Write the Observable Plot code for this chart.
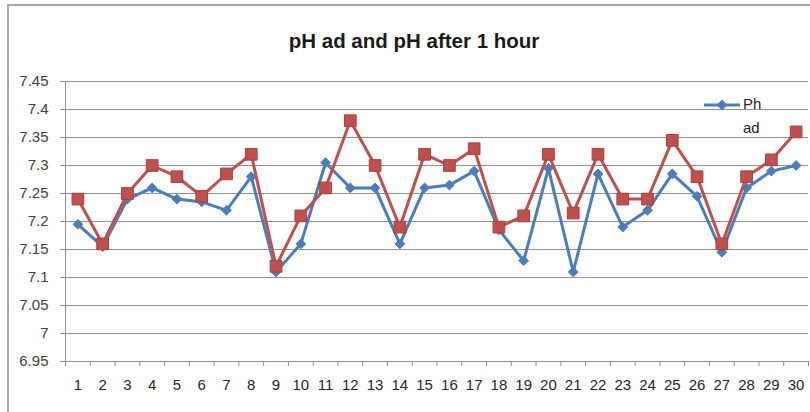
<!DOCTYPE html>
<html><head><meta charset="utf-8">
<script src="https://cdn.jsdelivr.net/npm/d3@7"></script>
<script src="https://cdn.jsdelivr.net/npm/@observablehq/plot@0.6"></script>
<style>
body{margin:0;background:#fff;}
#wrap{position:relative;width:810px;height:412px;overflow:hidden;font-family:"Liberation Sans",Arial,sans-serif;background:#fff;}
#frame{position:absolute;left:7px;top:4px;width:900px;height:500px;border-left:2px solid #a6a6a6;border-top:2px solid #a6a6a6;pointer-events:none;}
#title{position:absolute;left:9px;width:810px;top:29px;text-align:center;font-weight:bold;font-size:20.5px;color:#1a1a1a;}
#chart{position:absolute;left:0;top:0;}
#legend{position:absolute;left:703px;top:92px;font-size:15px;color:#262626;line-height:24px;}
#legend svg{vertical-align:middle;}
</style></head>
<body>
<div id="wrap">
  <div id="chart"></div>
  <div id="frame"></div>
  <div id="title">pH ad and pH after 1 hour</div>
  <div id="legend"></div>
</div>
<script>
const days = [1,2,3,4,5,6,7,8,9,10,11,12,13,14,15,16,17,18,19,20,21,22,23,24,25,26,27,28,29,30];
const phAd = [7.195,7.155,7.24,7.26,7.24,7.235,7.22,7.28,7.11,7.16,7.305,7.26,7.26,7.16,7.26,7.265,7.29,7.185,7.13,7.295,7.11,7.285,7.19,7.22,7.285,7.245,7.145,7.26,7.29,7.30];
const ph1h = [7.24,7.16,7.25,7.30,7.28,7.245,7.285,7.32,7.12,7.21,7.26,7.38,7.30,7.19,7.32,7.30,7.33,7.19,7.21,7.32,7.215,7.32,7.24,7.24,7.345,7.28,7.16,7.28,7.31,7.36];
const yTicks = [6.95,7,7.05,7.1,7.15,7.2,7.25,7.3,7.35,7.4,7.45];
const legendLabel = "Ph ad";

const blue = "#4a7ebb", red = "#c0504d";
const dataAd = days.map((d,i)=>({day:d, v:phAd[i]}));
const data1h = days.map((d,i)=>({day:d, v:ph1h[i]}));
const boundaries = [0].concat(days).map(d=>d+0.5);

const plot = Plot.plot({
  width: 810, height: 412,
  marginLeft: 65, marginRight: 2, marginTop: 81, marginBottom: 51,
  style: {fontFamily: '"Liberation Sans", Arial, sans-serif', fontSize: "15px", color: "#404040", background: "transparent"},
  x: {domain: [0.5, 30.5]},
  y: {domain: [6.95, 7.45]},
  marks: [
    Plot.gridY({ticks: yTicks, stroke: "#8f8f8f", strokeOpacity: 1, strokeWidth: 1}),
    Plot.ruleX([0.5], {stroke: "#8f8f8f"}),
    Plot.axisY({ticks: yTicks, tickSize: 5, tickPadding: 12, stroke: "#8f8f8f", fill: "#404040", tickFormat: d => String(d), label: null}),
    Plot.axisX({ticks: boundaries, tickSize: 5, tickFormat: () => "", stroke: "#8f8f8f", label: null}),
    Plot.axisX({ticks: days, tickSize: 0, tickPadding: 18, fill: "#262626", tickFormat: d => String(d), label: null}),
    Plot.line(dataAd, {x: "day", y: "v", stroke: blue, strokeWidth: 3}),
    Plot.dot(dataAd, {x: "day", y: "v", symbol: "diamond2", r: 4.4, fill: blue, stroke: blue, strokeWidth: 1}),
    Plot.line(data1h, {x: "day", y: "v", stroke: red, strokeWidth: 3}),
    Plot.dot(data1h, {x: "day", y: "v", symbol: "square", r: 6.6, fill: red, stroke: "#a8403d", strokeWidth: 1})
  ]
});
document.getElementById("chart").appendChild(plot);

const words = legendLabel.split(" ");
document.getElementById("legend").innerHTML =
  '<div><svg width="38" height="14"><line x1="1" x2="37" y1="7" y2="7" stroke="'+blue+'" stroke-width="3"/><path d="M19,1.5L24.5,7L19,12.5L13.5,7Z" fill="'+blue+'"/></svg><span style="margin-left:2px">'+words[0]+'</span></div>' +
  '<div style="padding-left:40px">'+words[1]+'</div>';
</script>
</body></html>
